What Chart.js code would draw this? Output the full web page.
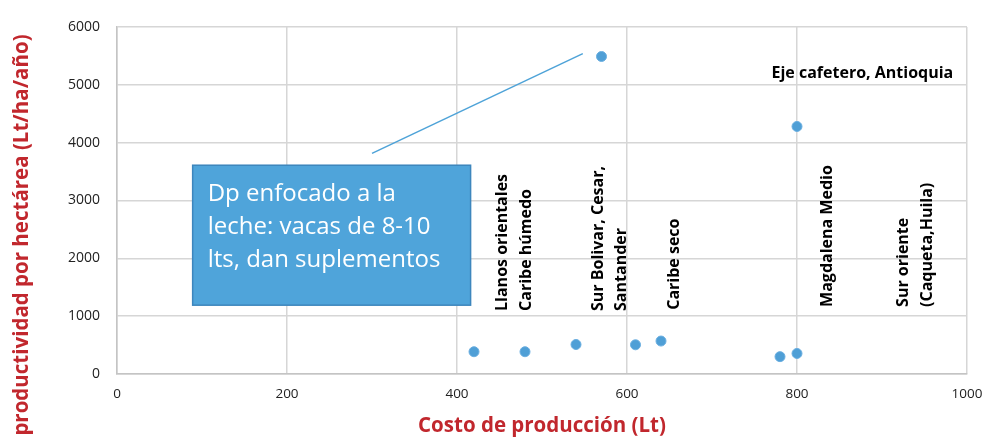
<!DOCTYPE html>
<html>
<head>
<meta charset="utf-8">
<script src="https://cdn.jsdelivr.net/npm/chart.js@4/dist/chart.umd.min.js"></script>
<style>
  html, body { margin: 0; padding: 0; background: #fff; }
  #wrap { width: 985px; height: 443px; position: relative; }
</style>
</head>
<body>
<div id="wrap"><canvas id="chart"></canvas></div>
<script>
// costo de producción (Lt) vs productividad (Lt/ha/año)
const costo = [420, 480, 540, 570, 610, 640, 780, 800, 800];
const productividad = [385, 385, 510, 5490, 505, 570, 300, 355, 4280];

const xTicks = [0, 200, 400, 600, 800, 1000];
const yTicks = [0, 1000, 2000, 3000, 4000, 5000, 6000];

// region labels, rotated, anchored at [x, y] in data units
const regionLabels = ['Llanos orientales', 'Caribe húmedo', 'Sur Bolivar, Cesar,', 'Santander',
                      'Caribe seco', 'Magdalena Medio', 'Sur oriente', '(Caqueta,Huila)'];
const regionX = [454, 482, 566, 594, 656, 836, 925, 953];
const regionY = [1090, 1090, 1090, 1090, 1110, 1160, 1160, 1160];

const boxLines = ['Dp enfocado a la', 'leche: vacas de 8-10', 'lts, dan suplementos'];

const FONT = '"Open Sans", sans-serif';

const annotations = {
    id: 'annotations',
    afterDatasetsDraw(chart) {
        const ctx = chart.ctx;
        const xs = chart.scales.x, ys = chart.scales.y;
        ctx.save();

        // callout line
        ctx.strokeStyle = '#4ea3d8';
        ctx.lineWidth = 1.5;
        ctx.beginPath();
        ctx.moveTo(xs.getPixelForValue(300), ys.getPixelForValue(3815));
        ctx.lineTo(xs.getPixelForValue(548), ys.getPixelForValue(5540));
        ctx.stroke();

        // text box
        const bx = xs.getPixelForValue(89), by = ys.getPixelForValue(3610);
        const bw = xs.getPixelForValue(416) - bx, bh = ys.getPixelForValue(1190) - by;
        ctx.fillStyle = '#4fa4da';
        ctx.fillRect(bx, by, bw, bh);
        ctx.strokeStyle = '#3d86bd';
        ctx.lineWidth = 1.5;
        ctx.strokeRect(bx, by, bw, bh);
        ctx.fillStyle = '#fff';
        ctx.font = '24px ' + FONT;
        ctx.textBaseline = 'middle';
        ctx.textAlign = 'left';
        boxLines.forEach((t, i) => ctx.fillText(t, bx + 15, by + 29 + i * 33));

        // rotated region labels
        ctx.fillStyle = '#000';
        ctx.font = 'bold 16px ' + FONT;
        regionLabels.forEach((t, i) => {
            ctx.save();
            ctx.translate(xs.getPixelForValue(regionX[i]), ys.getPixelForValue(regionY[i]));
            ctx.rotate(-Math.PI / 2);
            ctx.textAlign = 'left';
            ctx.textBaseline = 'middle';
            ctx.fillText(t, 0, 0);
            ctx.restore();
        });

        ctx.textAlign = 'left';
        ctx.fillText('Eje cafetero, Antioquia', xs.getPixelForValue(770), ys.getPixelForValue(5200));

        // axis titles
        ctx.fillStyle = '#c1272d';
        ctx.font = 'bold 20.5px ' + FONT;
        ctx.textAlign = 'center';
        ctx.fillText('Costo de producción (Lt)', (chart.chartArea.left + chart.chartArea.right) / 2, 426);
        ctx.save();
        ctx.translate(22, 235);
        ctx.rotate(-Math.PI / 2);
        ctx.fillText('productividad por hectárea (Lt/ha/año)', 0, 0);
        ctx.restore();

        ctx.restore();
    }
};

new Chart(document.getElementById('chart'), {
    type: 'scatter',
    data: {
        datasets: [{
            data: costo.map((c, i) => ({ x: c, y: productividad[i] })),
            backgroundColor: '#4f9fd6',
            borderColor: '#6aaee0',
            borderWidth: 1,
            pointRadius: 5,
            pointHoverRadius: 5
        }]
    },
    options: {
        responsive: true,
        maintainAspectRatio: false,
        animation: false,
        layout: { padding: { top: 27, right: 18, left: 0, bottom: 0 } },
        plugins: { legend: { display: false }, tooltip: { enabled: false } },
        scales: {
            x: {
                type: 'linear',
                min: 0, max: 1000,
                afterBuildTicks: s => { s.ticks = xTicks.map(v => ({ value: v })); },
                afterFit: s => { s.height = 69; s.paddingLeft = 0; s.paddingRight = 0; },
                grid: { color: '#d6d6d6', lineWidth: 1.5, drawTicks: false },
                border: { color: '#c4c4c4', width: 1.5 },
                ticks: { padding: 12, color: '#222', font: { family: FONT, size: 13.5 }, callback: v => String(v) }
            },
            y: {
                min: 0, max: 6000,
                afterBuildTicks: s => { s.ticks = yTicks.map(v => ({ value: v })); },
                afterFit: s => { s.width = 117; s.paddingTop = 0; s.paddingBottom = 0; },
                grid: { color: '#d6d6d6', lineWidth: 1.5, drawTicks: false },
                border: { color: '#c4c4c4', width: 1.5 },
                ticks: { padding: 17, color: '#222', font: { family: FONT, size: 14 }, callback: v => String(v) }
            }
        }
    },
    plugins: [annotations]
});
</script>
</body>
</html>
